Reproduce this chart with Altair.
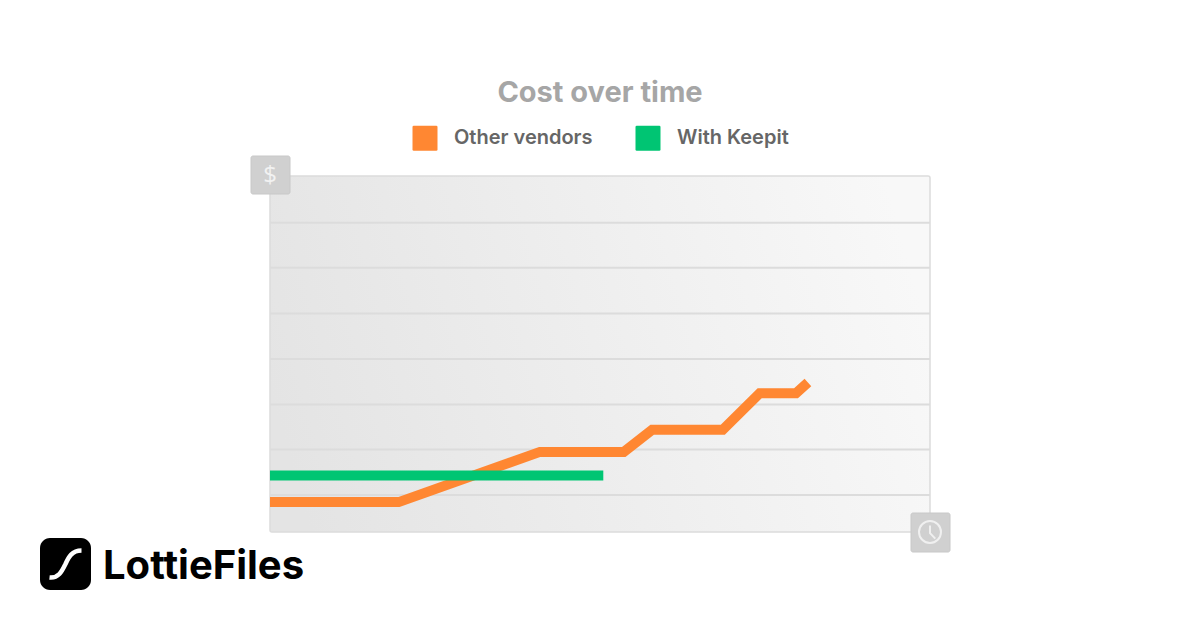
import altair as alt
import pandas as pd

orange_time = [0, 19.5, 40.9, 53.6, 57.9, 68.6, 74.2, 79.7, 81.5]
orange_cost = [8.4, 8.4, 22.5, 22.5, 28.7, 28.7, 39.0, 39.0, 42.0]
green_time = [0, 50.5]
green_cost = [15.9, 15.9]
grid_cost = [10.4, 23.2, 35.8, 48.6, 61.4, 74.2, 86.9]
series_names = ["Other vendors", "With Keepit"]
series_colors = ["#FF8732", "#00C573"]

W, H = 660, 356
x_scale = alt.Scale(domain=[0, 100], nice=False, zero=False)
y_scale = alt.Scale(domain=[0, 100], nice=False, zero=False)
color_scale = alt.Scale(domain=series_names, range=series_colors)

orange = pd.DataFrame({"t": orange_time, "c": orange_cost, "s": series_names[0]})
green = pd.DataFrame({"t": green_time, "c": green_cost, "s": series_names[1]})
frame = pd.DataFrame({"t": [0], "t2": [100], "c": [0], "c2": [100]})
grid = pd.DataFrame({"c": grid_cost})
legend_df = pd.DataFrame({"t": [0, 0], "c": [0, 0], "s": series_names})
one = pd.DataFrame({"a": [0]})

ROUND_SQUARE = (
    "M-0.45,-0.5H0.45Q0.5,-0.5,0.5,-0.45V0.45Q0.5,0.5,0.45,0.5"
    "H-0.45Q-0.5,0.5,-0.5,0.45V-0.45Q-0.5,-0.5,-0.45,-0.5Z"
)

background = (
    alt.Chart(frame)
    .mark_rect(
        color=alt.Gradient(
            gradient="linear",
            stops=[
                alt.GradientStop(color="#E4E4E4", offset=0),
                alt.GradientStop(color="#F8F8F8", offset=1),
            ],
            x1=0, y1=0.6, x2=1, y2=0.45,
        ),
        stroke="#DCDCDC",
        strokeWidth=1.5,
        cornerRadius=2,
    )
    .encode(
        x=alt.X("t:Q", scale=x_scale, axis=None),
        x2="t2:Q",
        y=alt.Y("c:Q", scale=y_scale, axis=None),
        y2="c2:Q",
    )
)

grid_lines = (
    alt.Chart(grid)
    .mark_rule(color="#DCDCDC", strokeWidth=2)
    .encode(y=alt.Y("c:Q", scale=y_scale, axis=None))
)

legend_marks = (
    alt.Chart(legend_df)
    .mark_point(filled=True, size=0, shape=ROUND_SQUARE)
    .encode(
        x=alt.X("t:Q", scale=x_scale, axis=None),
        y=alt.Y("c:Q", scale=y_scale, axis=None),
        color=alt.Color(
            "s:N",
            scale=color_scale,
            legend=alt.Legend(
                title=None,
                orient="none",
                legendX=130,
                legendY=-63,
                direction="horizontal",
                symbolType=ROUND_SQUARE,
                symbolSize=2500,
                symbolOpacity=1,
                symbolStrokeWidth=0,
                labelFont="Inter",
                labelFontSize=20,
                labelFontWeight=600,
                labelColor="#666666",
                labelOffset=4,
                columnPadding=30,
                labelLimit=300,
            ),
        ),
    )
)


def series_line(df):
    return (
        alt.Chart(df)
        .mark_line(strokeWidth=10, strokeJoin="miter", strokeCap="butt", clip=True)
        .encode(
            x=alt.X("t:Q", scale=x_scale, axis=None),
            y=alt.Y("c:Q", scale=y_scale, axis=None),
            color=alt.Color("s:N", scale=color_scale, legend=None),
        )
    )


def badge(x0, x1, y0, y1):
    return (
        alt.Chart(one)
        .mark_rect(color="#D0D0D0", stroke="#C8C8C8", cornerRadius=2)
        .encode(
            x=alt.value(x0), x2=alt.value(x1),
            y=alt.value(y0), y2=alt.value(y1),
        )
    )


dollar = (
    alt.Chart(one)
    .mark_text(text="$", font="Open Sans", fontSize=24, color="#F2F2F2",
               align="center", baseline="middle")
    .encode(x=alt.value(0), y=alt.value(0))
)

clock = (
    alt.Chart(one)
    .mark_point(
        shape=(
            "M0.5,0A0.5,0.5,0,1,1,-0.5,0A0.5,0.5,0,1,1,0.5,0Z"
            "M0,-0.3V0.05L0.24,0.3"
        ),
        size=1936,
        filled=False,
        stroke="#F0F0F0",
        strokeWidth=2,
        opacity=1,
    )
    .encode(x=alt.value(W), y=alt.value(H))
)

logo_box = (
    alt.Chart(one)
    .mark_rect(color="#000000", cornerRadius=10)
    .encode(
        x=alt.value(-230), x2=alt.value(-179),
        y=alt.value(362), y2=alt.value(414),
    )
)

logo_curve = (
    alt.Chart(one)
    .mark_point(
        shape="M-0.5,0.42C-0.2,0.45,-0.1,0.2,0,0C0.1,-0.22,0.2,-0.42,0.5,-0.42",
        size=4096,
        filled=False,
        stroke="#FFFFFF",
        strokeWidth=4.5,
        opacity=1,
    )
    .encode(x=alt.value(-204.5), y=alt.value(388))
)

logo_text = (
    alt.Chart(one)
    .mark_text(text="LottieFiles", font="Inter", fontSize=40, fontWeight=700,
               color="#000000", align="left", baseline="alphabetic")
    .encode(x=alt.value(-167), y=alt.value(403))
)

chart = (
    alt.layer(
        background,
        grid_lines,
        series_line(orange),
        series_line(green),
        legend_marks,
        badge(-19, 20, -20, 18),
        dollar,
        badge(641, 680, 337, 376),
        clock,
        logo_box,
        logo_curve,
        logo_text,
    )
    .resolve_legend(color="independent")
    .properties(
        width=W,
        height=H,
        padding={"left": 262, "right": 262, "top": 168, "bottom": 90},
        autosize=alt.AutoSizeParams(type="none"),
        background="#FFFFFF",
        title=alt.TitleParams(
            "Cost over time",
            font="Inter",
            fontSize=29,
            fontWeight=700,
            color="#A6A6A6",
            anchor="middle",
            offset=5,
        ),
    )
    .configure_view(stroke=None)
)

chart.save("out.html", embed_options={"renderer": "svg", "actions": False})
